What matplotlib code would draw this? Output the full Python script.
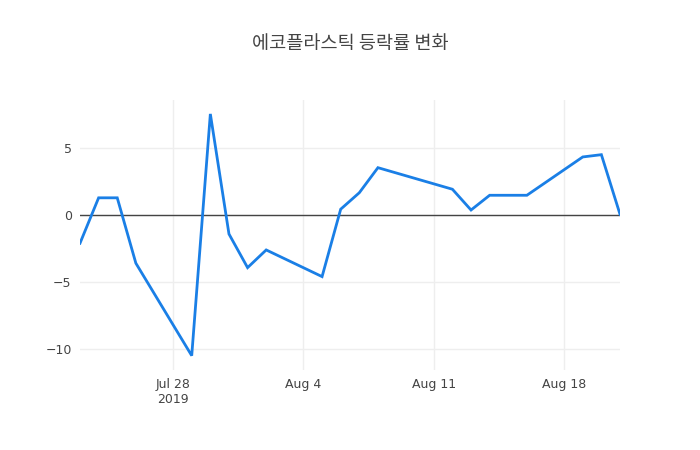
import matplotlib
matplotlib.use("Agg")
import matplotlib.pyplot as plt
import pandas as pd

plt.rcParams['font.family'] = ['DejaVu Sans', 'Noto Sans CJK KR']

dates = ["2019-07-23", "2019-07-24", "2019-07-25", "2019-07-26", "2019-07-29",
         "2019-07-30", "2019-07-31", "2019-08-01", "2019-08-02", "2019-08-05",
         "2019-08-06", "2019-08-07", "2019-08-08", "2019-08-12", "2019-08-13",
         "2019-08-14", "2019-08-16", "2019-08-19", "2019-08-20", "2019-08-21"]
changes = [-2.11, 1.28, 1.28, -3.6, -10.5,
           7.54, -1.42, -3.93, -2.61, -4.6,
           0.43, 1.66, 3.53, 1.92, 0.37,
           1.47, 1.47, 4.33, 4.5, 0.05]
title = "에코플라스틱 등락률 변화"
xtick_dates = ["2019-07-28", "2019-08-04", "2019-08-11", "2019-08-18"]
xtick_labels = ["Jul 28\n2019", "Aug 4", "Aug 11", "Aug 18"]
ytick_vals = [-10, -5, 0, 5]

x = pd.to_datetime(dates)

fig = plt.figure(figsize=(7, 4.5), dpi=100)
ax = fig.add_axes([80/700, 80/450, 540/700, 270/450])

ax.plot(x, changes, color="#1a7fe6", linewidth=2, zorder=3, solid_joinstyle='miter')
ax.axhline(0, color="#444444", linewidth=1, zorder=2)

ax.set_xlim(x[0], x[-1])
ax.set_ylim(-11.57, 8.58)

ax.set_xticks(pd.to_datetime(xtick_dates))
ax.set_xticklabels(xtick_labels, linespacing=1.15)
ax.set_yticks(ytick_vals)
ax.set_yticklabels([str(v).replace("-", "\u2212") for v in ytick_vals])

ax.grid(True, color="#eeeeee", linewidth=1, zorder=0)
for s in ax.spines.values():
    s.set_visible(False)
ax.tick_params(axis='both', length=0, labelsize=9, labelcolor="#444444")
ax.tick_params(axis='x', pad=6)
ax.tick_params(axis='y', pad=6)

fig.text(0.5, 1 - 44/450, title, ha='center', va='center', fontsize=13.4,
         color="#444444", family=['Noto Sans CJK KR', 'DejaVu Sans'])

fig.savefig("out.png", dpi=100)
